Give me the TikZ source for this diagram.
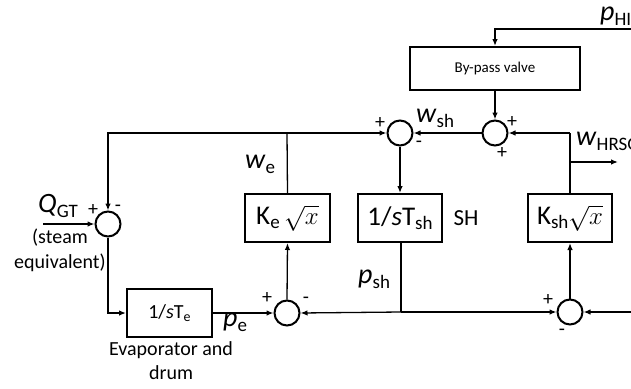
\documentclass[tikz,border=0pt]{standalone}
\usepackage{fontspec}
\setmainfont{Carlito}
\usetikzlibrary{arrows.meta}
\newcommand\vsub[2]{{\fontsize{28}{30}\selectfont\textit{#1}}\raisebox{-5pt}{\fontsize{19}{20}\selectfont #2}}
\newcommand\bsub[3]{\raisebox{-#2}{\fontsize{#1}{#1}\selectfont #3}}
\newcommand\sqx{{\fontsize{25}{25}\selectfont$\sqrt{x}$}}
\begin{document}
\begin{tikzpicture}[x=1pt,y=-1pt,
  ln/.style={line width=1.3pt},
  arr/.style={line width=1.3pt,-{Latex[length=7pt,width=5.5pt]}},
  blk/.style={draw,line width=2pt,minimum width=84pt,minimum height=48pt,inner sep=0pt,font=\fontsize{27}{28}\selectfont},
  sumn/.style={draw,circle,line width=2pt,minimum size=25pt,inner sep=0pt},
  sgn/.style={font=\fontsize{20}{20}\selectfont,inner sep=0pt},
  txt/.style={font=\fontsize{20}{22}\selectfont,inner sep=0pt},
  var/.style={inner sep=0pt,anchor=base west}]
\useasboundingbox (0,0) rectangle (631,388);
\clip (0,0) rectangle (631,388);
% blocks
\node[sumn] (sumQ) at (108,224) {};
\node[blk,minimum width=85pt,font=\fontsize{20}{22}\selectfont] (boxTe) at (169.5,313) {1/\textit{s}T\bsub{14}{3pt}{e}};
\node[sumn] (sumE) at (287,313) {};
\node[blk,minimum width=85pt] (boxKe) at (287.5,218) {K\bsub{19}{4pt}{e}\,\sqx};
\node[sumn] (sumSH) at (400,133) {};
\node[blk] (boxTsh) at (400,218) {1/\textit{s}T\bsub{19}{4pt}{sh}};
\node[sumn] (sumBP) at (495,133) {};
\node[draw,line width=2pt,minimum width=170pt,minimum height=43pt,inner sep=0pt,font=\fontsize{15}{16}\selectfont] (boxBP) at (495,68.5) {By-pass valve};
\node[blk] (boxKsh) at (570,218) {K\bsub{19}{4pt}{sh}\sqx};
\node[sumn] (sumR) at (570,312) {};
% coordinates
\coordinate (qin) at (43,224);
\coordinate (jE) at (287,133);
\coordinate (jP) at (401,312);
\coordinate (rin) at (631,312);
\coordinate (jK) at (570,133);
\coordinate (jH) at (570,162);
\coordinate (hout) at (618,162);
\coordinate (phin) at (631,29);
% connectors
\draw[arr] (qin) -- (sumQ.west);
\draw[arr] (sumQ.south) |- (boxTe.west);
\draw[arr] (boxTe.east) -- (sumE.west);
\draw[arr] (sumE.north) -- (boxKe.south);
\draw[ln] (boxKe.north) -- (jE);
\draw[arr] (jE) -| (sumQ.north);
\draw[arr] (jE) -- (sumSH.west);
\draw[arr] (sumSH.south) -- (boxTsh.north);
\draw[ln] (boxTsh.south -| jP) -- (jP);
\draw[arr] (jP) -- (sumE.east);
\draw[arr] (jP) -- (sumR.west);
\draw[arr] (rin) -- (sumR.east);
\draw[arr] (sumR.north) -- (boxKsh.south);
\draw[ln] (boxKsh.north) -- (jK);
\draw[arr] (jK) -- (sumBP.east);
\draw[arr] (jH) -- (hout);
\draw[arr] (sumBP.west) -- (sumSH.east);
\draw[arr] (boxBP.south) -- (sumBP.north);
\draw[arr] (phin) -| (boxBP.north);
% signs
\node[sgn] (s1) at (93,210) {+};
\node[sgn] (s2) at (118,208) {-};
\node[sgn] (s3) at (267,298) {+};
\node[sgn] (s4) at (306,300) {-};
\node[sgn] (s5) at (380,123) {+};
\node[sgn] (s6) at (419,144) {-};
\node[sgn] (s7) at (512,122) {+};
\node[sgn] (s8) at (502,153) {+};
\node[sgn] (s9) at (548,300) {+};
\node[sgn] (s10) at (562,332) {-};
% labels
\node[var] (lQ) at (38,212) {\vsub{Q}{GT}};
\node[txt] (lst) at (60,238) {(steam};
\node[txt] (leq) at (60,263) {equivalent)};
\node[var] (lpe) at (223,326) {\vsub{p}{e}};
\node[txt] (lev) at (171,350) {Evaporator and};
\node[txt] (ldr) at (171,373) {drum};
\node[var] (lwe) at (245,168) {\vsub{w}{e}};
\node[var] (lpsh) at (358,283) {\vsub{p}{sh}};
\node[txt,font=\fontsize{23}{24}\selectfont] (lSH) at (466,218) {SH};
\node[var] (lwsh) at (416,122) {\vsub{w}{sh}};
\node[var] (lwh) at (576,145) {\vsub{w}{HRSG}};
\node[var] (lphi) at (600,20) {\vsub{p}{HI}};
\end{tikzpicture}
\end{document}
